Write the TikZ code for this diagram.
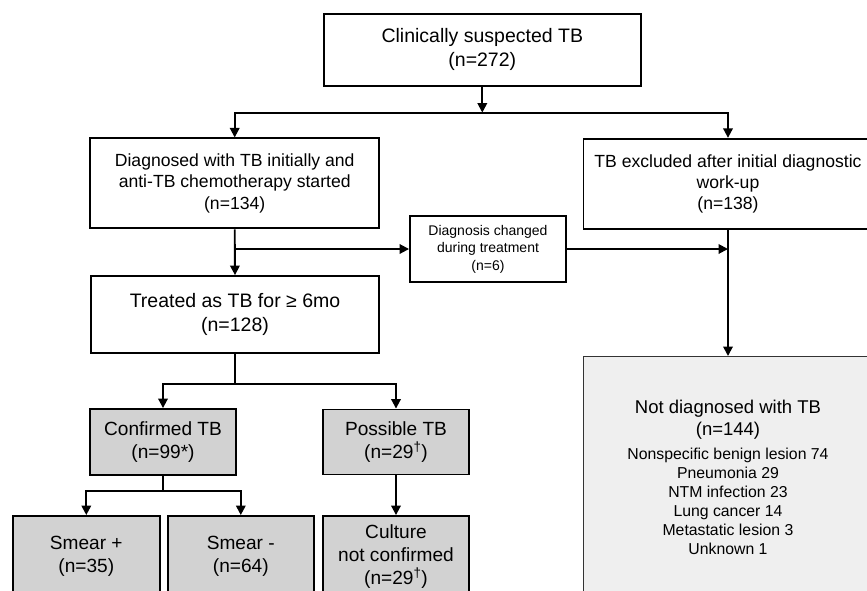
\documentclass[tikz,border=0pt]{standalone}
\usepackage{fontspec}
\setmainfont{Liberation Sans}
\usetikzlibrary{arrows.meta}
\definecolor{boxgray}{HTML}{D2D2D2}
\definecolor{lightgray}{HTML}{EFEFEF}
\begin{document}
\begin{tikzpicture}[x=1pt,y=-1pt,
  box/.style={draw=black,line width=1.9pt,fill=white,align=center,inner sep=0pt},
  graybox/.style={box,fill=boxgray},
  fbig/.style={font=\fontsize{19.5}{24}\selectfont},
  fmid/.style={font=\fontsize{17.6}{21.3}\selectfont},
  fsmall/.style={font=\fontsize{14}{17.5}\selectfont},
  fgray/.style={font=\fontsize{19.1}{23.3}\selectfont},
  arr/.style={line width=1.9pt,-{Triangle[length=9.5pt,width=9.5pt]}},
  ln/.style={line width=1.9pt}]
\fill[white] (0,0) rectangle (867,590);
\useasboundingbox (0,0) rectangle (867,590);
\clip (0,0) rectangle (867,590);

\node[box,fbig,minimum width=317pt,minimum height=72pt] (top) at (482.3,49.8)
  {Clinically suspected TB\\(n=272)};
\node[box,fmid,minimum width=289pt,minimum height=90pt] (diag) at (234.7,183.4)
  {Diagnosed with TB initially and\\anti-TB chemotherapy started\\(n=134)};
\node[box,fmid,minimum width=289pt,minimum height=90pt] (excl) at (728,183.8)
  {TB excluded after initial diagnostic\\work-up\\(n=138)};
\node[box,fsmall,minimum width=156pt,minimum height=66.6pt] (mid) at (488,249)
  {Diagnosis changed\\during treatment\\(n=6)};
\node[box,fbig,minimum width=288pt,minimum height=76.7pt] (treated) at (235,314.4)
  {Treated as TB for ≥ 6mo\\(n=128)};
\node[graybox,fgray,minimum width=146pt,minimum height=66pt] (conf) at (163,442)
  {Confirmed TB\\(n=99*)};
\node[graybox,fgray,minimum width=146.5pt,minimum height=65pt] (poss) at (396,442)
  {Possible TB\\(n=29\textsuperscript{†})};
\node[graybox,fgray,minimum width=146.6pt,minimum height=81pt] (smp) at (86.3,556.5)
  {Smear +\\(n=35)};
\node[graybox,fgray,minimum width=146.4pt,minimum height=81pt] (smm) at (240.8,556.5)
  {Smear -\\(n=64)};
\node[graybox,fgray,minimum width=146.5pt,minimum height=81pt] (cult) at (396,556.5)
  {Culture\\not confirmed\\(n=29\textsuperscript{†})};
\node[draw=black!80,line width=1.4pt,fill=lightgray,align=center,inner sep=0pt,
  minimum width=289pt,minimum height=241pt,font=\fontsize{15.8}{19}\selectfont] (notdiag) at (728,477.2)
  {{\fontsize{18.5}{22}\selectfont Not diagnosed with TB}\\[3pt]
   {\fontsize{18.5}{22}\selectfont (n=144)}\\[5pt]
   Nonspecific benign lesion 74\\Pneumonia 29\\NTM infection 23\\Lung cancer 14\\Metastatic lesion 3\\Unknown 1};

\coordinate (j1) at (482.3,112.6);
\coordinate (j2) at (235,249);
\coordinate (j3) at (235,383.7);
\coordinate (j4) at (163,491);

\draw[arr] (top.south) -- (j1);
\draw[arr] (j1) -| (diag.north);
\draw[arr] (j1) -| (excl.north);
\draw[arr] (diag.south) -- (treated.north);
\draw[arr] (j2) -- (mid.west);
\draw[arr] (mid.east) -- (mid.east -| excl.south);
\draw[arr] (excl.south) -- (notdiag.north);
\draw[ln] (treated.south) -- (j3);
\draw[arr] (j3) -| (conf.north);
\draw[arr] (j3) -| (poss.north);
\draw[ln] (conf.south) -- (j4);
\draw[arr] (j4) -| (smp.north);
\draw[arr] (j4) -| (smm.north);
\draw[arr] (poss.south) -- (cult.north);
\end{tikzpicture}
\end{document}
